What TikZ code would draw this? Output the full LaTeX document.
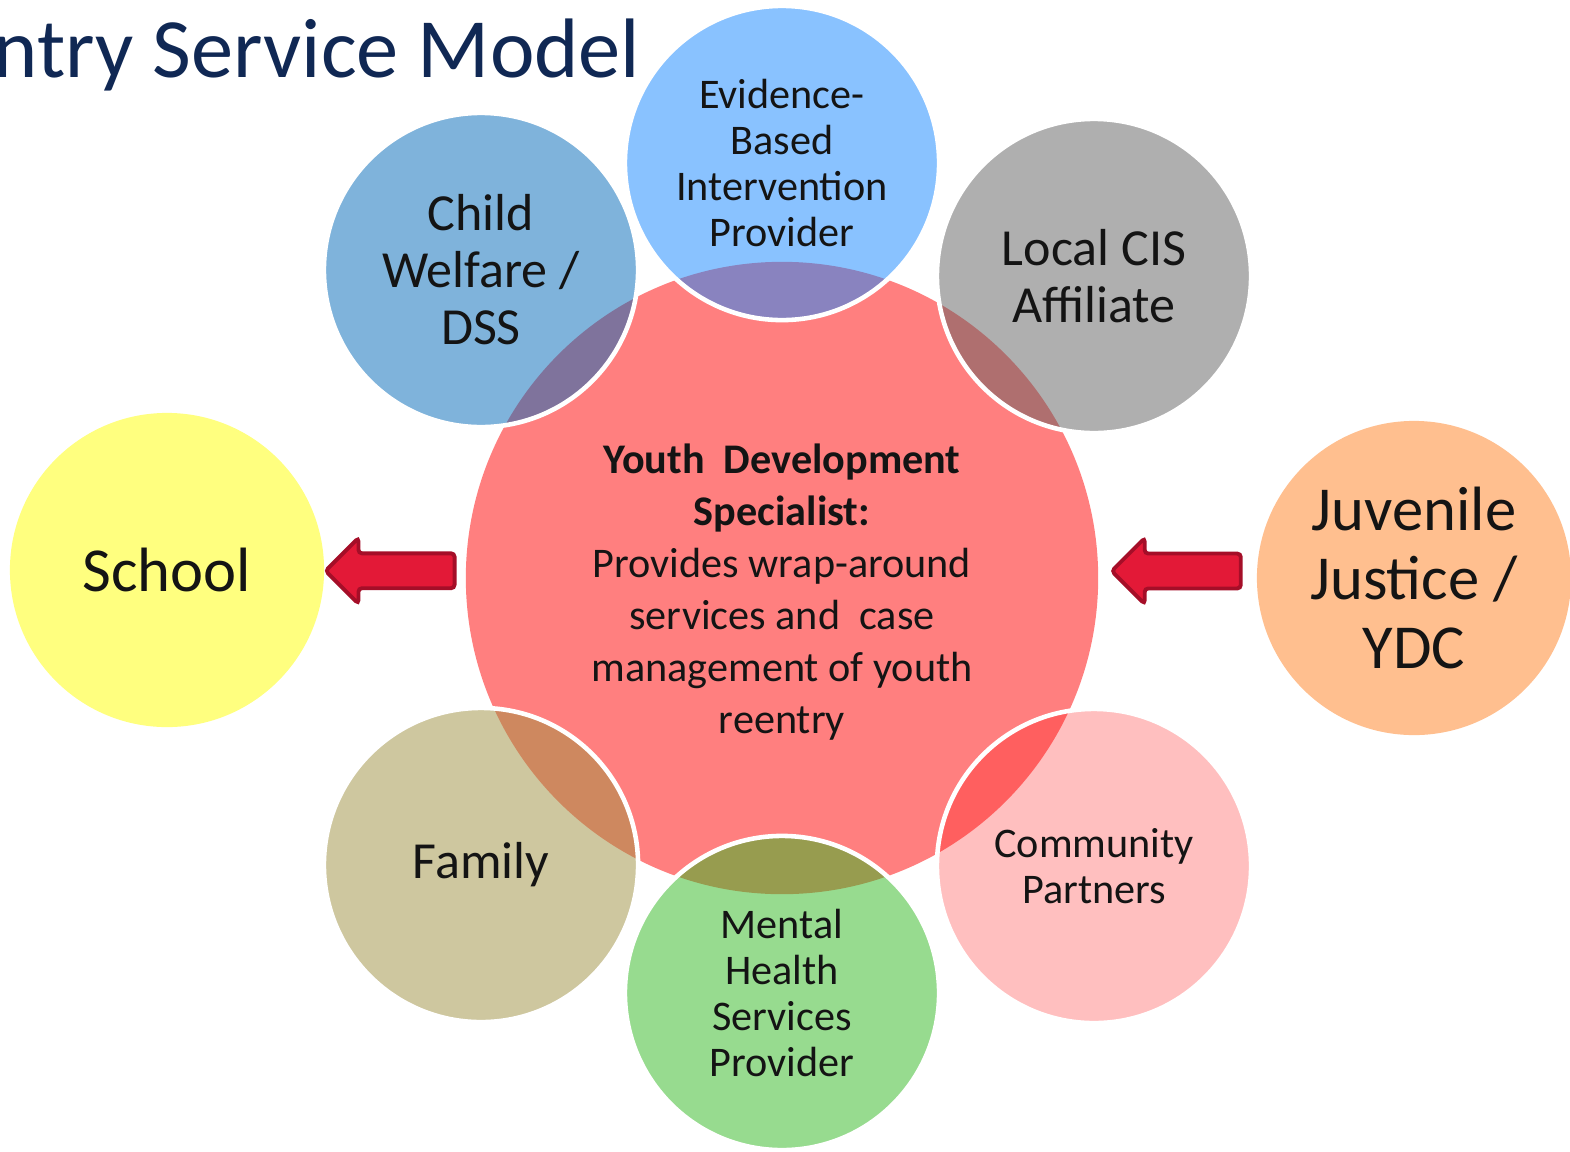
\documentclass[tikz,border=0pt]{standalone}
\usepackage{fontspec}
\setmainfont{Carlito}
\usepackage{tikz}
\usetikzlibrary{calc,shapes.arrows}

\definecolor{titleblue}{RGB}{16,40,84}
\definecolor{txt}{RGB}{20,20,20}
\definecolor{hubred}{RGB}{255,0,0}
\definecolor{ebiblue}{RGB}{21,135,255}
\definecolor{cwblue}{RGB}{0,105,185}
\definecolor{cisgray}{RGB}{97,97,97}
\definecolor{schyellow}{RGB}{255,255,1}
\definecolor{jjorange}{RGB}{255,129,33}
\definecolor{famkhaki}{RGB}{159,145,65}
\definecolor{mhgreen}{RGB}{49,185,33}
\definecolor{cppink}{RGB}{255,129,129}
\definecolor{arrowred}{RGB}{227,25,55}
\definecolor{arrowedge}{RGB}{165,14,40}

\newcommand{\bigtxt}{\fontsize{17.8}{19.6}\selectfont}
\newcommand{\midtxt}{\fontsize{14.8}{16.2}\selectfont}
\newcommand{\smalltxt}{\fontsize{12}{13.1}\selectfont}

\tikzset{
  bubble/.style={circle, minimum size=3.14cm, inner sep=0pt, fill opacity=0.5,
    text opacity=1, text=txt, align=center},
  hub/.style={circle, minimum size=6.32cm, inner sep=0pt, fill=hubred, fill opacity=0.5},
  rim/.style={draw=white, line width=1.3pt},
  blockarrow/.style={single arrow, draw=arrowedge, fill=arrowred, line width=1.1pt,
    minimum height=1.29cm, single arrow head extend=0.155cm,
    single arrow head indent=0pt, shape border rotate=180,
    inner xsep=0pt, inner ysep=0.155cm, rounded corners=1pt}
}

\begin{document}
\begin{tikzpicture}[x=0.01cm, y=-0.01cm]
\pgfmathsetmacro{\rs}{1.57} % small circle radius (cm)
\useasboundingbox (0,0) rectangle (1570,1151);
\clip (0,0) rectangle (1570,1151);
\fill[white] (0,0) rectangle (1570,1151);

\node[anchor=base west, inner sep=0pt, text=titleblue, font=\fontsize{24}{28}\selectfont]
  (title) at (-7,77) {ntry Service Model};

% community partners sits under the hub
\node[bubble, fill=cppink, font=\smalltxt] (cp) at (1094,866) {Community\\Partners};
\node[hub] (hub) at (782,578) {};

\node[bubble, fill=cwblue, font=\midtxt] (cw) at (481,270) {Child\\Welfare /\\DSS};
\node[bubble, fill=ebiblue, font=\smalltxt] (ebi) at (782,163) {Evidence-\\Based\\Intervention\\Provider};
\node[bubble, fill=cisgray, font=\midtxt] (cis) at (1094,276) {Local CIS\\Affiliate};
\node[bubble, fill=schyellow, font=\bigtxt] (school) at (167,570) {School};
\node[bubble, fill=jjorange, font=\bigtxt] (jj) at (1414,578) {Juvenile\\Justice /\\YDC};
\node[bubble, fill=famkhaki, font=\midtxt] (fam) at (481,865) {Family};
\node[bubble, fill=mhgreen, font=\smalltxt] (mhs) at (782,993) {Mental\\Health\\Services\\Provider};

\foreach \b in {cw,ebi,cis,fam,mhs,cp}
  \draw[rim] (\b) circle[radius=\rs cm];

\node[blockarrow, xshift=0.08cm, yshift=0.03cm] (arrL) at ($(school.east)!0.47!(hub.west)$) {};
\node[blockarrow, xshift=0.09cm, yshift=0.07cm] (arrR) at ($(hub.east)!0.49!(jj.west)$) {};

\node[align=center, text=txt, font=\fontsize{12}{14.8}\selectfont] (hubtext)
  at ([yshift=-0.14cm]hub.center)
  {\textbf{Youth~ Development}\\\textbf{Specialist:}\\Provides wrap-around\\services and~ case\\management of youth\\reentry};
\end{tikzpicture}
\end{document}
